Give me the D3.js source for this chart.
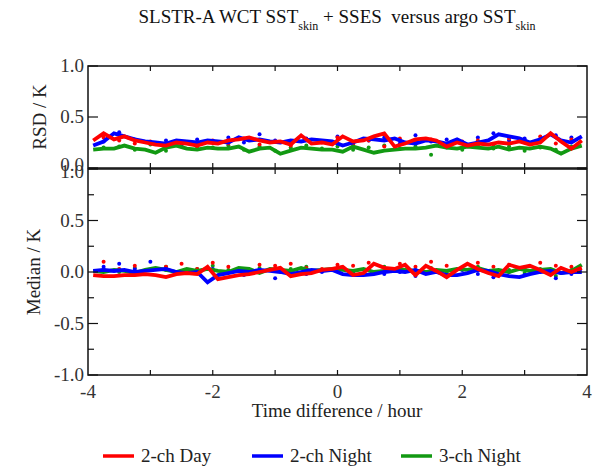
<!DOCTYPE html>
<html lang="en">
<head>
    <meta charset="UTF-8">
    <title>SLSTR-A WCT SST skin vs argo</title>
    <style>
        body {
            margin: 0;
            background: #fff;
        }
        #chart text {
            font-family: "Liberation Serif", "DejaVu Serif", serif;
            white-space: pre;
        }
    </style>
</head>
<body>
    <div id="chart"></div>

    <script src="https://d3js.org/d3.v7.min.js"></script>
    <script>
        // time bins (hours) for the lines and for the scattered points
        const lineTimes = d3.range(48).map(i => -3.9167 + i / 6)
        const dotTimes = d3.range(31).map(i => -3.75 + i * 0.25)

        const seriesNames = ['2-ch Day', '2-ch Night', '3-ch Night']
        const seriesColors = ['#ff0000', '#0000ff', '#129912']

        // RSD / K
        const rsdDay = [0.27, 0.34, 0.28, 0.31, 0.27, 0.25, 0.23, 0.22, 0.25, 0.24, 0.22, 0.25,
            0.24, 0.27, 0.28, 0.30, 0.27, 0.25, 0.26, 0.23, 0.32, 0.24, 0.25, 0.23,
            0.31, 0.26, 0.27, 0.31, 0.34, 0.21, 0.24, 0.28, 0.29, 0.27, 0.21, 0.25,
            0.22, 0.24, 0.23, 0.25, 0.24, 0.26, 0.23, 0.25, 0.34, 0.26, 0.19, 0.27]
        const rsdNight2 = [0.22, 0.26, 0.34, 0.31, 0.28, 0.26, 0.25, 0.24, 0.27, 0.26, 0.25, 0.27,
            0.26, 0.25, 0.30, 0.27, 0.28, 0.26, 0.25, 0.27, 0.26, 0.28, 0.27, 0.26,
            0.22, 0.25, 0.29, 0.28, 0.27, 0.29, 0.25, 0.24, 0.27, 0.26, 0.24, 0.28,
            0.23, 0.25, 0.27, 0.33, 0.31, 0.29, 0.25, 0.28, 0.33, 0.27, 0.25, 0.31]
        const rsdNight3 = [0.18, 0.19, 0.19, 0.22, 0.19, 0.18, 0.15, 0.20, 0.22, 0.19, 0.18, 0.20,
            0.19, 0.19, 0.21, 0.16, 0.19, 0.20, 0.14, 0.17, 0.20, 0.19, 0.18, 0.18,
            0.16, 0.21, 0.18, 0.15, 0.17, 0.18, 0.19, 0.19, 0.20, 0.22, 0.20, 0.19,
            0.21, 0.20, 0.19, 0.21, 0.18, 0.20, 0.19, 0.21, 0.19, 0.14, 0.19, 0.22]

        const rsdDayDots = [0.30, 0.27, 0.24, 0.26, 0.22, 0.25, 0.21, 0.27, 0.24, 0.29, 0.23, 0.26,
            0.22, 0.28, 0.25, 0.30, 0.23, 0.27, 0.21, 0.29, 0.25, 0.28, 0.22, 0.26,
            0.27, 0.23, 0.29, 0.25, 0.31, 0.24, 0.28]
        const rsdNight2Dots = [0.26, 0.35, 0.28, 0.25, 0.27, 0.23, 0.28, 0.26, 0.30, 0.25, 0.33, 0.27,
            0.24, 0.29, 0.26, 0.31, 0.25, 0.27, 0.30, 0.24, 0.32, 0.26, 0.28, 0.25,
            0.30, 0.34, 0.27, 0.29, 0.26, 0.32, 0.30]
        const rsdNight3Dots = [0.20, 0.21, 0.18, 0.23, 0.17, 0.21, 0.19, 0.20, 0.22, 0.18, 0.21, 0.17,
            0.20, 0.22, 0.19, 0.21, 0.18, 0.20, 0.22, 0.19, 0.21, 0.13, 0.20, 0.18,
            0.22, 0.19, 0.21, 0.17, 0.20, 0.18, 0.21]

        // Median / K
        const medDay = [-0.03, -0.04, -0.04, -0.03, -0.03, -0.02, -0.03, -0.05, -0.02, -0.01, -0.02, 0.05,
            -0.07, -0.05, -0.03, -0.02, 0.00, 0.02, 0.04, -0.04, -0.02, -0.01, 0.02, 0.03,
            0.05, -0.03, -0.01, 0.08, 0.04, 0.03, 0.07, -0.03, 0.06, 0.01, -0.05, 0.02,
            0.08, 0.03, -0.01, -0.04, 0.07, 0.04, 0.06, 0.02, -0.03, 0.04, 0.00, 0.04]
        const medNight2 = [0.01, 0.02, 0.01, 0.02, 0.00, 0.01, 0.02, 0.03, 0.00, -0.01, 0.00, -0.10,
            -0.03, -0.01, 0.01, 0.00, 0.02, 0.01, 0.00, -0.02, 0.00, 0.02, 0.01, 0.02,
            -0.02, -0.03, -0.03, -0.02, 0.00, 0.01, 0.00, 0.02, -0.02, 0.00, -0.03, -0.03,
            -0.01, 0.02, 0.01, -0.02, -0.04, -0.05, -0.02, 0.00, 0.01, -0.01, 0.00, 0.00]
        const medNight3 = [0.01, 0.00, 0.02, 0.01, -0.01, 0.02, 0.04, 0.02, 0.00, 0.03, 0.01, 0.03,
            0.01, 0.00, 0.04, 0.03, -0.01, 0.03, 0.02, 0.01, 0.04, 0.01, 0.02, 0.03,
            0.02, 0.01, 0.03, 0.00, 0.01, 0.03, 0.02, 0.01, 0.00, 0.02, 0.01, 0.03,
            0.02, 0.04, 0.01, 0.02, 0.00, 0.03, 0.01, 0.02, 0.03, -0.01, 0.01, 0.07]

        const medDayDots = [0.10, 0.03, 0.06, 0.02, 0.05, 0.08, 0.03, 0.09, 0.05, 0.02, 0.07, 0.06,
            0.08, 0.04, 0.03, 0.07, 0.06, 0.09, 0.04, 0.08, 0.05, 0.10, 0.06, 0.03,
            0.09, 0.05, 0.07, 0.04, 0.09, 0.06, 0.05]
        const medNight2Dots = [0.05, 0.08, 0.03, 0.10, 0.02, 0.01, -0.01, 0.03, 0.00, -0.03, 0.02, -0.06,
            0.01, -0.02, 0.00, 0.02, -0.01, 0.03, -0.02, 0.00, -0.04, 0.01, -0.03, 0.02,
            -0.02, -0.05, 0.00, -0.03, 0.01, -0.06, -0.02]
        const medNight3Dots = [0.03, 0.00, 0.04, 0.02, 0.05, 0.01, 0.03, 0.06, 0.02, 0.00, 0.04, 0.01,
            0.03, 0.05, 0.02, 0.04, 0.00, 0.03, 0.05, 0.01, 0.02, 0.04, 0.00, 0.03,
            0.05, 0.01, 0.02, -0.01, 0.03, -0.04, 0.02]

        const xTicks = ['-4', '-2', '0', '2', '4']
        const rsdTicks = ['0.0', '0.5', '1.0']
        const medTicks = ['-1.0', '-0.5', '0.0', '0.5', '1.0']

        const width = 610
        const height = 468
        const left = 88
        const right = 587
        const fontSize = '19px'

        const svg = d3.select('#chart')
            .append('svg')
            .attr('width', width)
            .attr('height', height)

        const x = d3.scaleLinear().domain([-4, 4]).range([left, right])
        const yRsd = d3.scaleLinear().domain([0, 1]).range([168, 66])
        const yMed = d3.scaleLinear().domain([-1, 1]).range([375, 169])

        const panels = [
            {
                y: yRsd, ticks: rsdTicks, minor: [], label: 'RSD / K', labelX: 46,
                nudge: { '0.0': -3 },
                lines: [rsdDay, rsdNight2, rsdNight3], dots: [rsdDayDots, rsdNight2Dots, rsdNight3Dots]
            },
            {
                y: yMed, ticks: medTicks, minor: [-0.75, -0.25, 0.25, 0.75], label: 'Median / K', labelX: 40,
                nudge: { '1.0': 3 },
                lines: [medDay, medNight2, medNight3], dots: [medDayDots, medNight2Dots, medNight3Dots]
            }
        ]

        // title with subscripts
        const title = svg.append('text')
            .attr('x', 337)
            .attr('y', 23)
            .attr('text-anchor', 'middle')
            .style('font-size', fontSize)
            .attr('fill', '#111')
        title.append('tspan').text('SLSTR-A WCT SST')
        title.append('tspan').text('skin').attr('dy', 7).style('font-size', '12px')
        title.append('tspan').text(' + SSES  versus argo SST').attr('dy', -7)
        title.append('tspan').text('skin').attr('dy', 7).style('font-size', '12px')

        panels.forEach(p => {
            const g = svg.append('g')
            const [yBottom, yTop] = p.y.range()

            // dots first, lines on top; draw green, blue, red
            const order = [2, 1, 0]
            order.forEach(s => {
                g.append('g')
                    .attr('fill', seriesColors[s])
                    .selectAll('circle')
                    .data(p.dots[s])
                    .join('circle')
                    .attr('cx', (d, i) => x(dotTimes[i]))
                    .attr('cy', d => p.y(d))
                    .attr('r', 2)
            })

            const line = d3.line()
                .x((d, i) => x(lineTimes[i]))
                .y(d => p.y(d))

            order.forEach(s => {
                g.append('path')
                    .datum(p.lines[s])
                    .attr('fill', 'none')
                    .attr('stroke', seriesColors[s])
                    .attr('stroke-width', 3.8)
                    .attr('d', line)
            })

            // frame
            g.append('rect')
                .attr('x', left)
                .attr('y', yTop)
                .attr('width', right - left)
                .attr('height', yBottom - yTop)
                .attr('fill', 'none')
                .attr('stroke', '#111')
                .attr('stroke-width', 1.5)

            // x ticks (inward, top and bottom)
            const tickG = g.append('g').attr('stroke', '#111').attr('stroke-width', 1.2)
            d3.range(-3, 4).forEach(t => {
                tickG.append('line').attr('x1', x(t)).attr('x2', x(t)).attr('y1', yTop).attr('y2', yTop + 5)
                tickG.append('line').attr('x1', x(t)).attr('x2', x(t)).attr('y1', yBottom).attr('y2', yBottom - 5)
            })

            // y ticks (inward, left and right)
            const yTickVals = p.ticks.map(Number)
            yTickVals.concat(p.minor).forEach(v => {
                const len = p.minor.includes(v) ? 6 : 10
                tickG.append('line').attr('x1', left).attr('x2', left + len).attr('y1', p.y(v)).attr('y2', p.y(v))
                tickG.append('line').attr('x1', right).attr('x2', right - len).attr('y1', p.y(v)).attr('y2', p.y(v))
            })

            g.append('g')
                .selectAll('text')
                .data(p.ticks)
                .join('text')
                .attr('x', left - 4)
                .attr('y', d => p.y(+d) + 6 + (p.nudge[d] || 0))
                .attr('text-anchor', 'end')
                .attr('fill', '#333')
                .style('font-size', fontSize)
                .text(d => d)

            g.append('text')
                .attr('transform', `translate(${p.labelX}, ${(yTop + yBottom) / 2}) rotate(-90)`)
                .attr('text-anchor', 'middle')
                .attr('fill', '#222')
                .style('font-size', fontSize)
                .text(p.label)
        })

        // x tick labels
        svg.append('g')
            .selectAll('text')
            .data(xTicks)
            .join('text')
            .attr('x', d => x(+d))
            .attr('y', 398)
            .attr('text-anchor', 'middle')
            .attr('fill', '#333')
            .style('font-size', fontSize)
            .text(d => d)

        svg.append('text')
            .attr('x', 337)
            .attr('y', 417)
            .attr('text-anchor', 'middle')
            .attr('fill', '#222')
            .style('font-size', fontSize)
            .text('Time difference / hour')

        // legend
        const legendX = [103, 252, 401]
        const legend = svg.append('g')
        seriesNames.forEach((name, i) => {
            legend.append('line')
                .attr('x1', legendX[i])
                .attr('x2', legendX[i] + 31)
                .attr('y1', 456)
                .attr('y2', 456)
                .attr('stroke', seriesColors[i])
                .attr('stroke-width', 3.5)
            legend.append('text')
                .attr('x', legendX[i] + 38)
                .attr('y', 462)
                .attr('fill', '#222')
                .style('font-size', fontSize)
                .text(name)
        })
    </script>
</body>
</html>
